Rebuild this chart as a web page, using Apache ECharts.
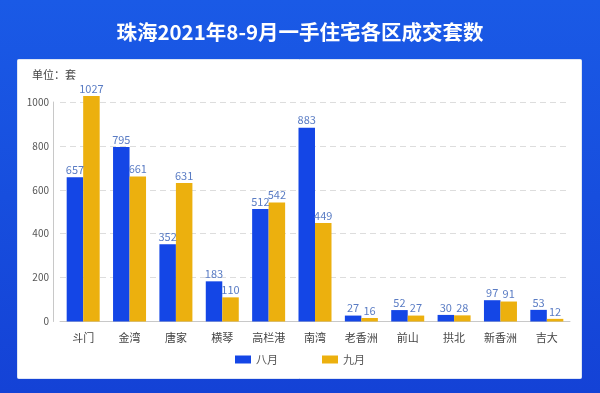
<!DOCTYPE html>
<html><head><meta charset="utf-8">
<script src="https://cdn.jsdelivr.net/npm/echarts@6/dist/echarts.min.js"></script>
<style>html,body{margin:0;padding:0;}#c{width:600px;height:393px;}</style>
</head><body><div id="c"></div>
<script>
const categories = ['斗门','金湾','唐家','横琴','高栏港','南湾','老香洲','前山','拱北','新香洲','吉大'];
const august = [657, 795, 352, 183, 512, 883, 27, 52, 30, 97, 53];
const september = [1027, 661, 631, 110, 542, 449, 16, 27, 28, 91, 12];
const seriesNames = ['八月', '九月'];
const yTicks = {min: 0, max: 1000, interval: 200};

const chart = echarts.init(document.getElementById('c'));
const font = '"Noto Sans CJK SC", "Noto Sans", sans-serif';
const labelStyle = {show: true, position: 'top', distance: 2, color: '#5a7cc4', fontSize: 11, fontFamily: font};
chart.setOption({
  backgroundColor: {type: 'linear', x: 0, y: 0, x2: 0, y2: 1, colorStops: [
    {offset: 0, color: '#1a5ae6'}, {offset: 1, color: '#1442d6'}]},
  graphic: [
    {type: 'rect', left: 17, top: 59, shape: {width: 564, height: 319, r: 1},
     style: {fill: '#ffffff', stroke: '#dfe6f5', lineWidth: 1}, z: -1},
    {type: 'text', left: 32, top: 69, style: {text: '单位：套', fill: '#444', font: '11px ' + font}}
  ],
  title: {text: '珠海2021年8-9月一手住宅各区成交套数', left: 'center', top: 17,
    textStyle: {color: '#ffffff', fontSize: 20.5, fontWeight: 'bold', fontFamily: font}},
  legend: {data: seriesNames, bottom: 23, left: 'center', itemWidth: 16, itemHeight: 8, itemGap: 44,
    textStyle: {color: '#555', fontSize: 11, fontFamily: font}, icon: 'rect'},
  grid: {left: 60, right: 30, top: 102, bottom: 71.5},
  xAxis: {type: 'category', data: categories,
    axisLine: {lineStyle: {color: '#c8c8c8'}}, axisTick: {show: false},
    axisLabel: {color: '#444', fontSize: 11, margin: 11, fontFamily: font}},
  yAxis: {type: 'value', min: yTicks.min, max: yTicks.max, interval: yTicks.interval, offset: 7,
    axisLine: {show: true, lineStyle: {color: '#c8c8c8'}}, axisTick: {show: false},
    axisLabel: {color: '#555', fontSize: 10, margin: 4, fontFamily: font, formatter: v => String(v)},
    splitLine: {lineStyle: {color: '#dddddd', type: [6, 4]}}},
  series: [
    {name: seriesNames[0], type: 'bar', data: august, barWidth: 16.5, barGap: '0%', clip: false,
     itemStyle: {color: '#1446e6'}, label: labelStyle},
    {name: seriesNames[1], type: 'bar', data: september, barWidth: 16.5, barGap: '0%', clip: false,
     itemStyle: {color: '#ecb00e'}, label: labelStyle}
  ]
});
</script></body></html>
